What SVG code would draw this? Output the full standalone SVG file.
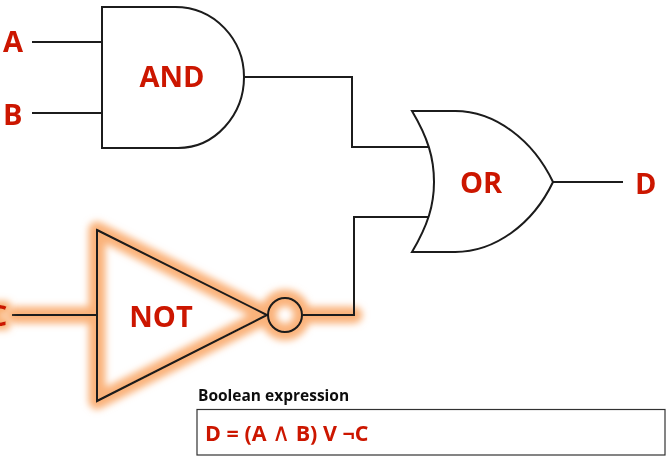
<svg xmlns="http://www.w3.org/2000/svg" width="669" height="462" viewBox="0 0 669 462">
<defs>
<filter id="glow" x="-20%" y="-20%" width="140%" height="140%"><feGaussianBlur stdDeviation="3.8"/></filter>
<filter id="soft" x="-5%" y="-5%" width="110%" height="110%"><feGaussianBlur stdDeviation="0.45"/></filter>
<filter id="textglow" x="-60%" y="-60%" width="220%" height="220%">
<feMorphology in="SourceAlpha" operator="dilate" radius="4" result="d"/>
<feGaussianBlur in="d" stdDeviation="3.500" result="b"/>
<feFlood flood-color="#f9ae70"/>
<feComposite in2="b" operator="in" result="o"/>
<feGaussianBlur in="SourceGraphic" stdDeviation="0.45" result="s"/>
<feMerge><feMergeNode in="o"/><feMergeNode in="s"/></feMerge>
</filter>
</defs>
<style>
.w{fill:none;stroke:#1a1a1a;stroke-width:2}
.g{fill:#fff;stroke:#1a1a1a;stroke-width:2}
.h{fill:none;stroke:#fab27a;stroke-width:17;stroke-linejoin:round;stroke-linecap:round}
text{font-family:"Open Sans","Noto Sans","Liberation Sans",sans-serif;font-weight:700;fill:#cc1800}
</style>
<rect width="669" height="462" fill="#fff"/>
<g id="glow-layer" filter="url(#glow)">
<path class="h" d="M15 315H97V230L267 315L97 401V315"/>
<circle class="h" cx="285" cy="315" r="17"/>
<path class="h" d="M303 315H354"/>
</g>
<g id="connectors" filter="url(#soft)">
<path class="w" d="M32 42H102M32 113H102"/>
<path class="w" d="M244 77H352V147H428" stroke-width="2.400"/>
<path class="w" d="M12 315H97"/>
<path class="w" d="M303 315H354V217H428" stroke-width="2.400"/>
<path class="w" d="M553 182H623"/>
</g>
<g id="and" filter="url(#soft)">
<path class="g" d="M102 7H175C215 7 244 40 244 77C244 115 215 148 178 148H102Z"/>
<text x="172" y="87" font-size="29" text-anchor="middle">AND</text>
</g>
<g id="or" filter="url(#soft)">
<path class="g" d="M412 111H455C495 111 533 140 553 182C533 224 495 252 455 252H412C428 225 434 205 434 182C434 158 428 138 412 111Z"/>
<text x="481" y="193" font-size="29" text-anchor="middle">OR</text>
</g>
<g id="not" filter="url(#soft)">
<path class="w" d="M97 230L267 315L97 401Z"/>
<circle class="w" cx="285" cy="315" r="17"/>
<text x="161" y="327" font-size="29" text-anchor="middle">NOT</text>
</g>
<g id="labels">
<text x="3" y="52" font-size="29" filter="url(#soft)">A</text>
<text x="3" y="125" font-size="29" filter="url(#soft)">B</text>
<text x="-11" y="326" font-size="29" filter="url(#textglow)">C</text>
<text x="635" y="194" font-size="29" filter="url(#soft)">D</text>
</g>
<g id="expression" filter="url(#soft)">
<text x="198" y="401" font-size="15.500" style="fill:#111">Boolean expression</text>
<rect x="197" y="409.500" width="468" height="45.500" fill="#fff" stroke="#333" stroke-width="1.200"/>
<text x="205" y="441" font-size="21.500">D = (A <tspan font-weight="400" font-size="25">∧</tspan> B) V ¬C</text>
</g>
</svg>
